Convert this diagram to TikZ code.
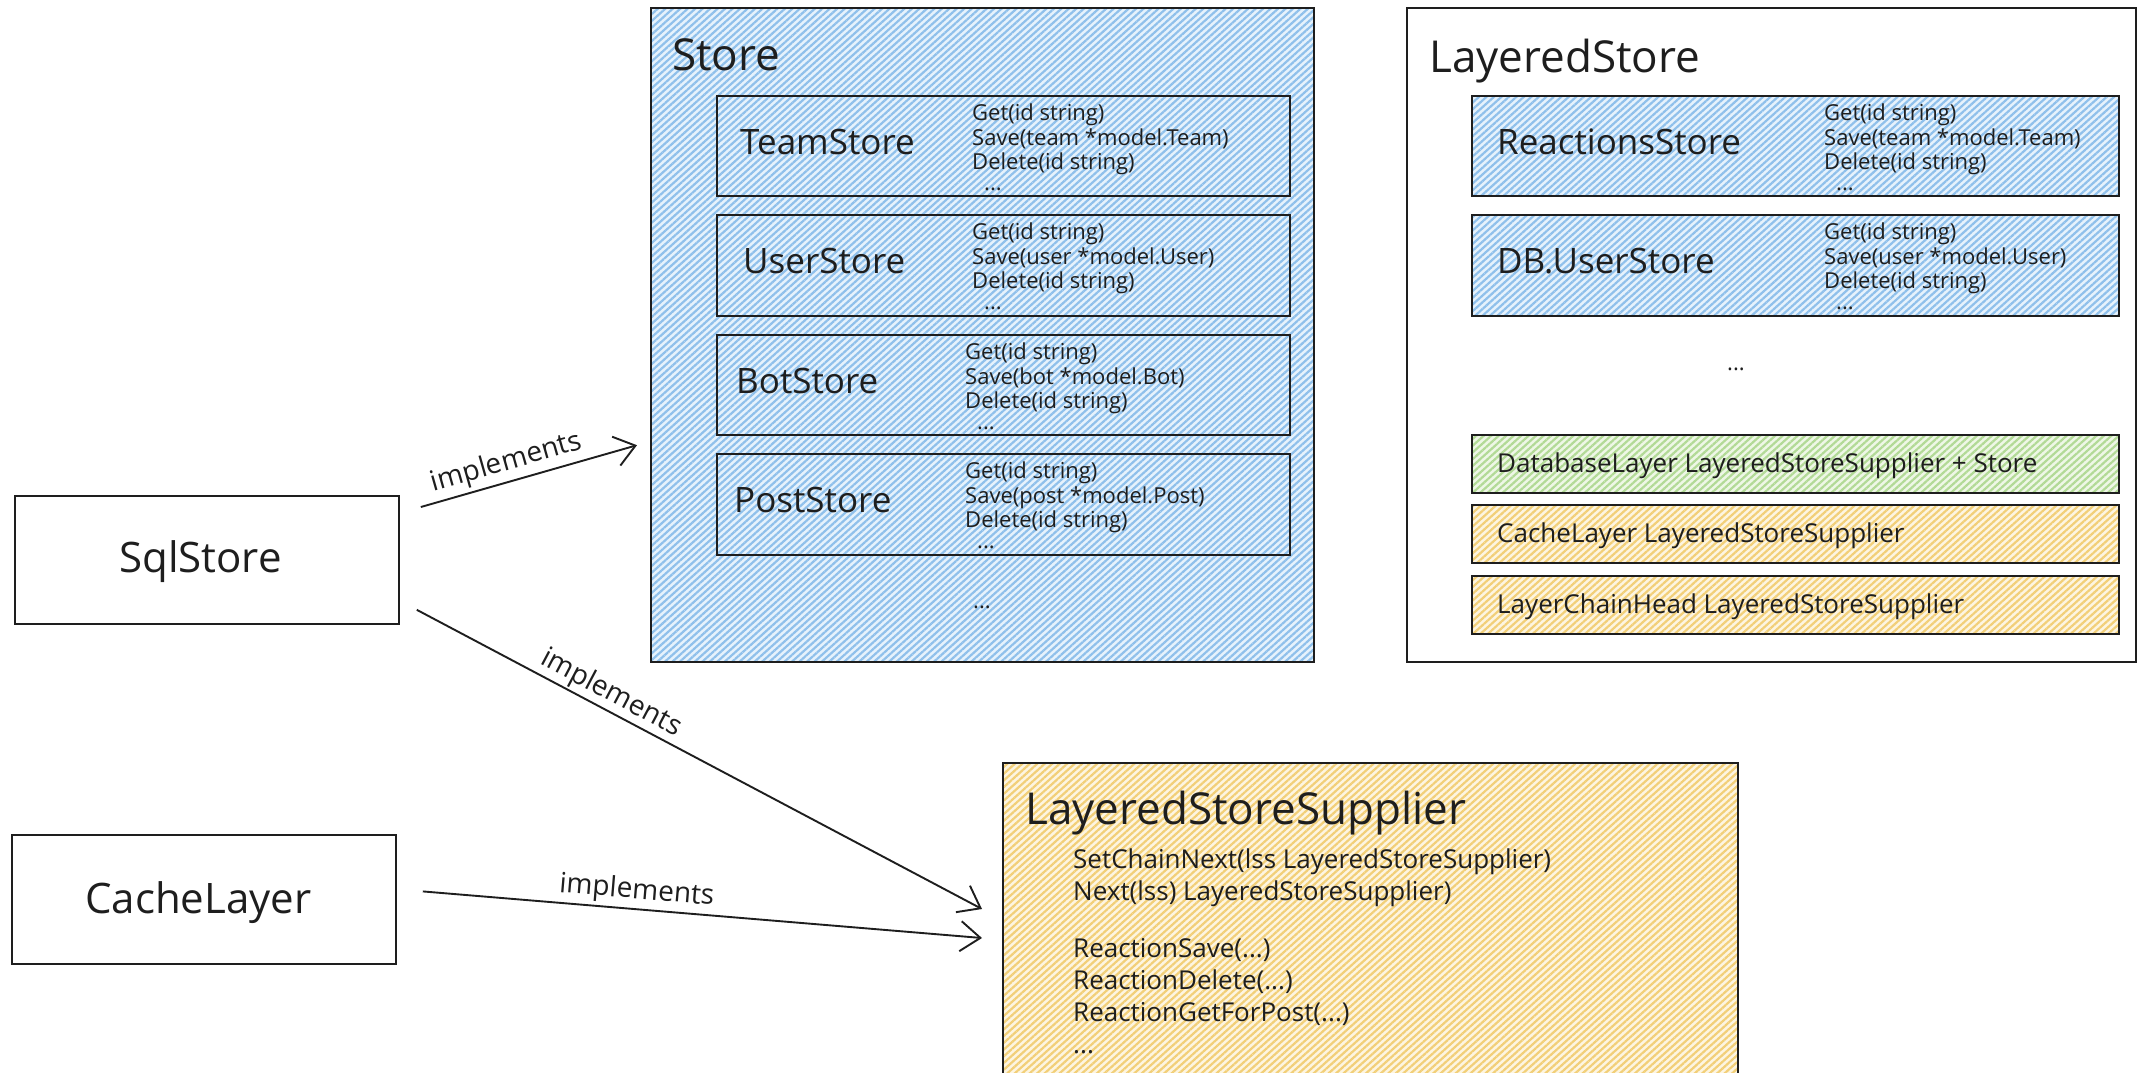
\documentclass[tikz,border=0pt]{standalone}
\usepackage{fontspec}
\setmainfont{Open Sans}
\usetikzlibrary{patterns.meta,arrows.meta,calc}
\definecolor{ink}{HTML}{1E1E1E}
\definecolor{bluefill}{HTML}{E6F2FC}
\definecolor{blueline}{HTML}{8FC0EB}
\definecolor{yelfill}{HTML}{FDF5E1}
\definecolor{yelline}{HTML}{F2CF78}
\definecolor{grnfill}{HTML}{EEF7E6}
\definecolor{grnline}{HTML}{B2DA96}
\tikzset{
  hatch/.style={pattern={Lines[angle=42,distance=5pt,line width=2.2pt]}},
  box/.style={draw=ink, line width=1.8pt, anchor=north west, inner sep=0pt, rectangle},
  bluebox/.style={box, preaction={fill=bluefill}, hatch, pattern color=blueline},
  yelbox/.style={box, preaction={fill=yelfill}, hatch, pattern color=yelline},
  grnbox/.style={box, preaction={fill=grnfill}, hatch, pattern color=grnline},
  whitebox/.style={box, fill=white},
  title/.style={anchor=base west, inner sep=0pt, font=\fontsize{44}{50}\selectfont, text=ink},
  storelbl/.style={anchor=base west, inner sep=0pt, font=\fontsize{35}{40}\selectfont, text=ink},
  biglbl/.style={anchor=base west, inner sep=0pt, font=\fontsize{42}{48}\selectfont, text=ink},
  methods/.style={anchor=north west, inner sep=0pt, align=left, font=\fontsize{22}{24.5}\selectfont, text=ink},
  lssmethods/.style={anchor=north west, inner sep=0pt, align=left, font=\fontsize{26}{32}\selectfont, text=ink},
  layertxt/.style={anchor=base west, inner sep=0pt, font=\fontsize{26}{30}\selectfont, text=ink},
  dots/.style={inner sep=0pt, font=\fontsize{22}{24}\selectfont, text=ink},
  arr/.style={draw=ink, line width=1.9pt, -{Straight Barb[length=20pt,width=30pt,line width=1.9pt]}},
  lbl/.style={font=\fontsize{28}{32}\selectfont, text=ink, inner sep=2pt}
}
\begin{document}
\begin{tikzpicture}[x=1pt,y=-1pt]
\clip (0,0) rectangle (2138,1072);
\fill[white] (0,0) rectangle (2138,1072);

% Store
\node[bluebox, minimum width=663pt, minimum height=654pt] (store) at (650,7) {};
\node[title] (storet) at (672,70) {Store};
\node[bluebox, minimum width=573pt, minimum height=100pt] (team) at (716,95) {};
\node[bluebox, minimum width=573pt, minimum height=101pt] (user) at (716,214) {};
\node[bluebox, minimum width=573pt, minimum height=100pt] (bot) at (716,334) {};
\node[bluebox, minimum width=573pt, minimum height=101pt] (post) at (716,453) {};
\node[storelbl] (teamt) at (740,154) {TeamStore};
\node[storelbl] (usert) at (743,273) {UserStore};
\node[storelbl] (bott) at (736,393) {BotStore};
\node[storelbl] (postt) at (734,512) {PostStore};
\node[methods] (teamm) at (972,104) {Get(id string)\\Save(team *model.Team)\\Delete(id string)\\[-4pt]\hspace{12pt}...};
\node[methods] (userm) at (972,223) {Get(id string)\\Save(user *model.User)\\Delete(id string)\\[-4pt]\hspace{12pt}...};
\node[methods] (botm) at (965,343) {Get(id string)\\Save(bot *model.Bot)\\Delete(id string)\\[-4pt]\hspace{12pt}...};
\node[methods] (postm) at (965,462) {Get(id string)\\Save(post *model.Post)\\Delete(id string)\\[-4pt]\hspace{12pt}...};
\node[dots] (storedots) at (982,607) {...};

% LayeredStore
\node[whitebox, minimum width=729pt, minimum height=654pt] (layered) at (1406,7) {};
\node[title] (layeredt) at (1429,72) {LayeredStore};
\node[bluebox, minimum width=647pt, minimum height=100pt] (react) at (1471,95) {};
\node[bluebox, minimum width=647pt, minimum height=101pt] (dbuser) at (1471,214) {};
\node[storelbl] (reactt) at (1497,154) {ReactionsStore};
\node[storelbl] (dbusert) at (1497,273) {DB.UserStore};
\node[methods] (reactm) at (1824,104) {Get(id string)\\Save(team *model.Team)\\Delete(id string)\\[-4pt]\hspace{12pt}...};
\node[methods] (dbuserm) at (1824,223) {Get(id string)\\Save(user *model.User)\\Delete(id string)\\[-4pt]\hspace{12pt}...};
\node[dots] (layereddots) at (1736,369) {...};
\node[grnbox, minimum width=647pt, minimum height=58pt] (dblayer) at (1471,434) {};
\node[yelbox, minimum width=647pt, minimum height=58pt] (cachel) at (1471,504) {};
\node[yelbox, minimum width=647pt, minimum height=58pt] (chain) at (1471,575) {};
\node[layertxt] (dblayert) at (1497,472) {DatabaseLayer LayeredStoreSupplier + Store};
\node[layertxt] (cachelt) at (1497,542) {CacheLayer LayeredStoreSupplier};
\node[layertxt] (chaint) at (1497,613) {LayerChainHead LayeredStoreSupplier};

% LayeredStoreSupplier
\node[yelbox, minimum width=735pt, minimum height=330pt] (lss) at (1002,762) {};
\node[title] (lsst) at (1025,824) {LayeredStoreSupplier};
\node[lssmethods] (lssm) at (1073,849) {SetChainNext(lss LayeredStoreSupplier)\\Next(lss) LayeredStoreSupplier)\\[25pt]ReactionSave(...)\\ReactionDelete(...)\\ReactionGetForPost(...)\\...};

% left boxes
\node[whitebox, minimum width=384pt, minimum height=128pt] (sql) at (14,495) {};
\node[biglbl] (sqlt) at (119,572) {SqlStore};
\node[whitebox, minimum width=384pt, minimum height=129pt] (cache) at (11,834) {};
\node[biglbl] (cachet) at (85,913) {CacheLayer};

% arrows
\draw[arr] ($(sql.north east)+(21,12)$) -- ($(store.south west)+(-13,-218)$)
  node[lbl, pos=0.42, sloped, above=2pt] {implements};
\draw[arr] ($(sql.south east)+(17,-15)$) -- ($(lss.north west)+(-20,147)$)
  node[lbl, pos=0.33, sloped, above=0pt] {implements};
\draw[arr] ($(cache.east)+(26,-8)$) -- ($(lss.north west)+(-20,176)$)
  node[lbl, pos=0.38, sloped, above=1pt] {implements};
\end{tikzpicture}
\end{document}
